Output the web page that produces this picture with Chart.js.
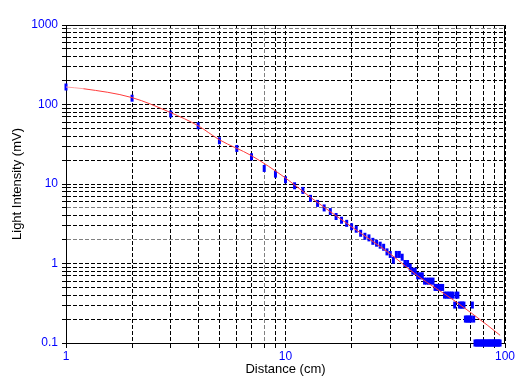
<!DOCTYPE html>
<html>
<head>
<meta charset="utf-8">
<script src="https://cdn.jsdelivr.net/npm/chart.js@4"></script>
<style>
  html, body { margin: 0; padding: 0; background: #fff; }
  #wrap { width: 531px; height: 389px; }
</style>
</head>
<body>
<div id="wrap"><canvas id="myChart" width="531" height="389"></canvas></div>
<script>
'use strict'

// measured points (cm, mV)
const distance = [
  1, 2, 3, 4, 5, 6, 7, 8, 9, 10,
  11, 12, 13, 14, 15, 16, 17, 18, 19, 20,
  21, 22, 23, 24, 25, 26, 27, 28, 29, 30,
  31, 32, 33, 34, 35, 36, 37, 38, 39, 40,
  41, 42, 43, 44, 45, 46, 47, 48, 49, 50,
  51, 52, 53, 54, 55, 56, 57, 58, 59, 60,
  61, 62, 63, 64, 65, 66, 67, 68, 69, 70,
  71, 72, 73, 74, 75, 76, 77, 78, 79, 80,
  81, 82, 83, 84, 85, 86, 87, 88, 89, 90,
  91, 92, 93, 94, 95
];
const intensity = [
  166, 120, 76, 54, 35, 28, 22, 15.7, 13.3, 11.3,
  9.5, 8.3, 6.6, 5.7, 5.0, 4.5, 3.9, 3.5, 3.2, 2.9,
  2.7, 2.4, 2.2, 2.1, 1.9, 1.8, 1.7, 1.6, 1.4, 1.3,
  1.1, 1.3, 1.3, 1.2, 1.0, 1.0, 0.9, 0.8, 0.8, 0.7,
  0.7, 0.7, 0.6, 0.6, 0.6, 0.6, 0.6, 0.5, 0.5, 0.5,
  0.5, 0.5, 0.4, 0.4, 0.4, 0.4, 0.4, 0.4, 0.3, 0.4,
  0.4, 0.3, 0.3, 0.3, 0.3, 0.2, 0.2, 0.2, 0.2, 0.2,
  0.3, 0.2, 0.1, 0.1, 0.1, 0.1, 0.1, 0.1, 0.1, 0.1,
  0.1, 0.1, 0.1, 0.1, 0.1, 0.1, 0.1, 0.1, 0.1, 0.1,
  0.1, 0.1, 0.1, 0.1, 0.1
];

// fitted curve
const fitDistance = [1, 1.2, 2, 3, 4, 5, 7, 10, 13, 20, 30, 40, 58, 70, 83, 95];
const fitIntensity = [166, 158, 122, 79, 54, 36, 22.7, 11.9, 6.8, 2.9, 1.32, 0.7, 0.35, 0.24, 0.168, 0.125];

// axis ticks
const xDecades = [1, 10];
const yDecades = [0.1, 1, 10, 100];
const steps = [1, 2, 3, 4, 5, 6, 7, 8, 9];
const xLabels = ['1', '10', '100'];
const yLabels = ['0.1', '1', '10', '100', '1000'];
const grayX = [8];
const grayY = [2, 5, 900];

function logTicks(decades) {
  const t = [];
  for (let i = 0; i < decades.length; i++) {
    for (let j = 0; j < steps.length; j++) {
      t.push(+(decades[i] * steps[j]).toPrecision(6));
    }
  }
  t.push(+(decades[decades.length - 1] * 10).toPrecision(6));
  return t;
}
const xTicks = logTicks(xDecades);
const yTicks = logTicks(yDecades);

function isIn(list, v) {
  for (let i = 0; i < list.length; i++) {
    if (Math.abs(list[i] - v) < 1e-6 * list[i]) return true;
  }
  return false;
}

const pts = [];
for (let i = 0; i < distance.length; i++) pts.push({x: distance[i], y: intensity[i]});
const fit = [];
for (let i = 0; i < fitDistance.length; i++) fit.push({x: fitDistance[i], y: fitIntensity[i]});

const frame = {
  id: 'frame',
  beforeDatasetsDraw(chart) {
    const a = chart.chartArea;
    const c = chart.ctx;
    c.save();
    c.strokeStyle = '#000';
    c.lineWidth = 1;
    c.setLineDash([]);
    c.beginPath();
    c.moveTo(Math.round(a.left) + 0.5, Math.round(a.top) + 0.5);
    c.lineTo(Math.round(a.right) - 0.5, Math.round(a.top) + 0.5);
    c.lineTo(Math.round(a.right) - 0.5, Math.round(a.bottom) + 0.5);
    c.stroke();
    c.restore();
  }
};

const font = "'Liberation Sans', Arial, Helvetica, sans-serif";

new Chart(document.getElementById('myChart').getContext('2d'), {
  type: 'scatter',
  data: {
    datasets: [
      {
        label: 'fit',
        data: fit,
        showLine: true,
        borderColor: '#ff3c3c',
        borderWidth: 1,
        pointRadius: 0,
        cubicInterpolationMode: 'monotone',
        segment: {
          borderColor: s => s.p0DataIndex === 0 ? '#ffa0a0' : '#ff3c3c'
        }
      },
      {
        label: 'data',
        data: pts,
        showLine: false,
        pointStyle: 'line',
        rotation: 90,
        pointRadius: 3.5,
        pointBorderWidth: 3,
        pointBorderColor: '#0000ff',
        pointBackgroundColor: '#0000ff',
        clip: false
      }
    ]
  },
  options: {
    responsive: false,
    devicePixelRatio: 1,
    animation: false,
    events: [],
    layout: { padding: { top: 25, right: 26, left: 0, bottom: 0 } },
    plugins: { legend: { display: false }, tooltip: { enabled: false } },
    scales: {
      x: {
        type: 'logarithmic',
        min: 1,
        max: 100,
        afterFit: s => { s.height = 46; },
        afterBuildTicks: s => { s.ticks = xTicks.map(v => ({value: v})); },
        border: { display: true, color: '#000', width: 1, dash: [4, 2] },
        grid: {
          color: c => isIn(grayX, c.tick.value) ? '#808080' : '#000',
          tickColor: '#000',
          tickBorderDash: [4, 2],
          tickLength: 5
        },
        ticks: {
          autoSkip: false,
          maxRotation: 0,
          padding: 1,
          color: '#0000ff',
          font: { family: font, size: 12 },
          callback: v => {
            const s = String(+(+v).toPrecision(6));
            return xLabels.includes(s) ? s : '';
          }
        },
        title: {
          display: true,
          text: 'Distance (cm)',
          color: '#000',
          font: { family: font, size: 13 },
          padding: { top: 0, bottom: 12 }
        }
      },
      y: {
        type: 'logarithmic',
        min: 0.1,
        max: 1000,
        afterFit: s => { s.width = 66; },
        afterBuildTicks: s => { s.ticks = yTicks.map(v => ({value: v})); },
        border: { display: true, color: '#000', width: 1, dash: [4, 2] },
        grid: {
          color: c => isIn(grayY, c.tick.value) ? '#808080' : '#000',
          tickColor: '#000',
          tickBorderDash: [4, 2],
          tickLength: 4
        },
        ticks: {
          autoSkip: false,
          padding: 4,
          color: '#0000ff',
          font: { family: font, size: 12 },
          callback: v => {
            const s = String(+(+v).toPrecision(6));
            return yLabels.includes(s) ? s : '';
          }
        },
        title: {
          display: true,
          text: 'Light Intensity (mV)',
          color: '#000',
          font: { family: font, size: 13 },
          padding: { top: 10, bottom: 0 }
        }
      }
    }
  },
  plugins: [frame]
});
</script>
</body>
</html>
